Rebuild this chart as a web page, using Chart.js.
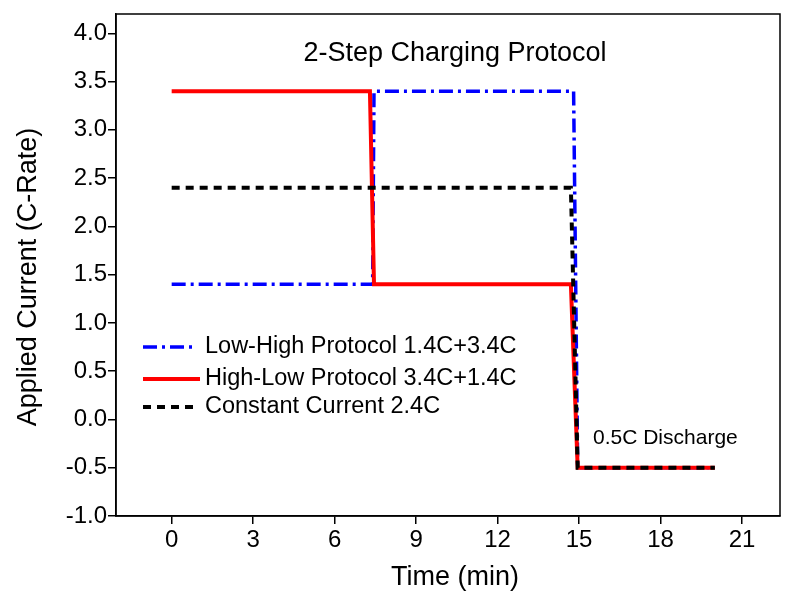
<!DOCTYPE html>
<html>
<head>
<meta charset="utf-8">
<script src="https://cdn.jsdelivr.net/npm/chart.js@4"></script>
<style>
  html, body { margin: 0; padding: 0; background: #fff; }
  #wrap { width: 793px; height: 595px; }
</style>
</head>
<body>
<div id="wrap"><canvas id="c" width="793" height="595"></canvas></div>
<script>
// Step profiles: time (min) and applied current (C-rate)
const lowHighTime    = [0, 7.40, 7.45, 14.80, 14.95, 20];
const lowHighCurrent = [1.4, 1.4, 3.4, 3.4, -0.5, -0.5];

const highLowTime    = [0, 7.30, 7.45, 14.70, 14.95, 20];
const highLowCurrent = [3.4, 3.4, 1.4, 1.4, -0.5, -0.5];

const constTime      = [0, 14.70, 14.95, 20];
const constCurrent   = [2.4, 2.4, -0.5, -0.5];

const seriesNames = [
  'Low-High Protocol 1.4C+3.4C',
  'High-Low Protocol 3.4C+1.4C',
  'Constant Current 2.4C'
];

const xTicks = [0, 3, 6, 9, 12, 15, 18, 21];
const yTicks = [-1.0, -0.5, 0.0, 0.5, 1.0, 1.5, 2.0, 2.5, 3.0, 3.5, 4.0];

const FONT = '"Liberation Sans", Arial, sans-serif';

const toPoints = (xs, ys) => xs.map((x, i) => ({ x: x, y: ys[i] }));

const styles = [
  { color: '#0000ff', width: 3.5, dash: [14, 5, 3, 5] },
  { color: '#ff0000', width: 4,   dash: [] },
  { color: '#000000', width: 4,   dash: [8, 6] }
];

const datasets = [
  { label: seriesNames[0], data: toPoints(lowHighTime, lowHighCurrent) },
  { label: seriesNames[1], data: toPoints(highLowTime, highLowCurrent) },
  { label: seriesNames[2], data: toPoints(constTime, constCurrent) }
].map((d, i) => Object.assign(d, {
  borderColor: styles[i].color,
  borderWidth: styles[i].width,
  borderDash: styles[i].dash,
  pointRadius: 0,
  fill: false,
  tension: 0,
  order: i === 0 ? 3 : (i === 1 ? 2 : 1)
}));

// Frame, axis titles, in-plot title, note and legend
const decor = {
  id: 'decor',
  afterDraw(chart) {
    const ctx = chart.ctx;
    const a = chart.chartArea;
    ctx.save();
    ctx.strokeStyle = '#000';
    ctx.lineWidth = 1.5;
    ctx.strokeRect(a.left, a.top, a.right - a.left, a.bottom - a.top);

    ctx.fillStyle = '#000';
    ctx.textBaseline = 'middle';
    ctx.textAlign = 'center';
    ctx.font = '27px ' + FONT;
    ctx.fillText('2-Step Charging Protocol', 455, 54);

    ctx.fillText('Time (min)', 455, 578);

    ctx.save();
    ctx.translate(29, 277);
    ctx.rotate(-Math.PI / 2);
    ctx.fillText('Applied Current (C-Rate)', 0, 0);
    ctx.restore();

    ctx.textAlign = 'left';
    ctx.font = '21px ' + FONT;
    ctx.fillText('0.5C Discharge', 593, 438);

    const rows = [347, 379, 407];
    ctx.font = '23.5px ' + FONT;
    rows.forEach((y, i) => {
      ctx.beginPath();
      ctx.strokeStyle = styles[i].color;
      ctx.lineWidth = styles[i].width;
      ctx.setLineDash(styles[i].dash);
      ctx.moveTo(143, y);
      ctx.lineTo(i === 1 ? 200 : 195, y);
      ctx.stroke();
      ctx.setLineDash([]);
      ctx.fillStyle = '#000';
      ctx.fillText(seriesNames[i], 205, y);
    });
    ctx.restore();
  }
};

new Chart(document.getElementById('c'), {
  type: 'line',
  data: { datasets: datasets },
  options: {
    responsive: false,
    animation: false,
    layout: { padding: { top: 14, right: 13, left: 0, bottom: 0 } },
    plugins: { legend: { display: false }, tooltip: { enabled: false } },
    scales: {
      x: {
        type: 'linear',
        min: -2.05,
        max: 22.4,
        afterBuildTicks: s => { s.ticks = xTicks.map(v => ({ value: v })); },
        afterFit: s => { s.height = 79; s.paddingLeft = 0; s.paddingRight = 0; },
        grid: { drawOnChartArea: false, drawTicks: true, tickLength: 8, color: '#000', lineWidth: 1.5 },
        border: { display: true, color: '#000', width: 1.5 },
        ticks: { color: '#000', font: { family: FONT, size: 24 }, padding: 2, maxRotation: 0,
                 callback: v => String(v) }
      },
      y: {
        type: 'linear',
        min: -1,
        max: 4.2,
        afterBuildTicks: s => { s.ticks = yTicks.map(v => ({ value: v })); },
        afterFit: s => { s.width = 116; s.paddingTop = 0; s.paddingBottom = 0; },
        grid: { drawOnChartArea: false, drawTicks: true, tickLength: 8, color: '#000', lineWidth: 1.5 },
        border: { display: true, color: '#000', width: 1.5 },
        ticks: { color: '#000', font: { family: FONT, size: 24 }, padding: 1,
                 callback: v => Number(v).toFixed(1) }
      }
    }
  },
  plugins: [decor]
});
</script>
</body>
</html>
